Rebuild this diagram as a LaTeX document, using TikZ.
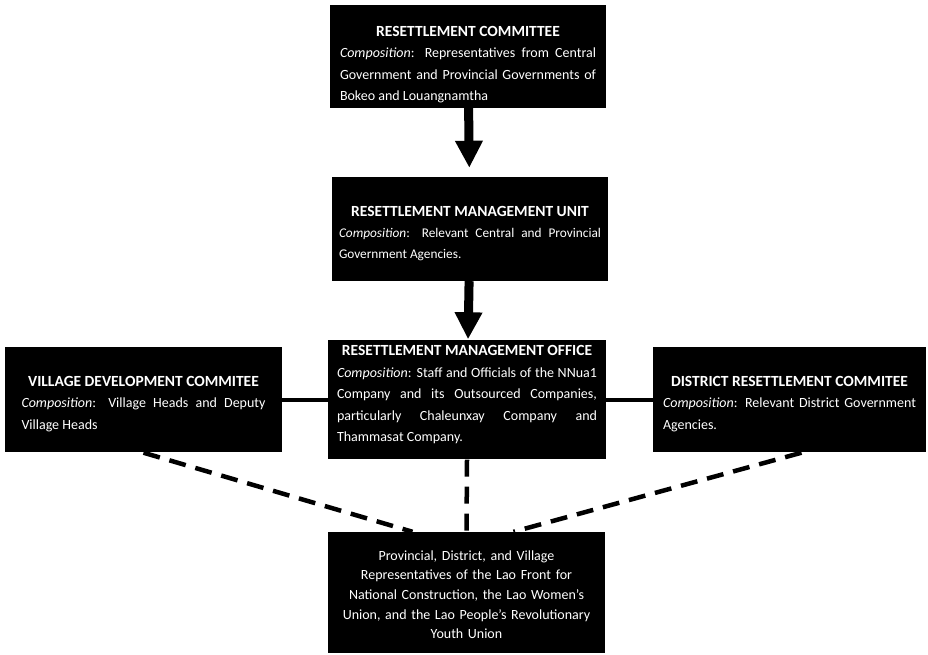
\documentclass[tikz,border=0pt]{standalone}
\usepackage{fontspec}
\setmainfont{Carlito}
\usepackage{tikz}
\usetikzlibrary{arrows.meta}
\hyphenpenalty=10000
\exhyphenpenalty=10000
\tolerance=9999
\newcommand{\orgbox}[3][0pt]{{\centering\fontsize{15.5}{21}\selectfont\bfseries\rule{0pt}{#1}#2\par}\noindent\textit{Composition}: #3}

\begin{document}
\begin{tikzpicture}[
      x=1pt, y=1pt,
      font=\fontsize{14}{21.5}\selectfont,
      box/.style={fill=black, text=white, align=justify, inner xsep=0pt, inner ysep=0pt},
      flow/.style={-{Triangle[width=26pt,length=27pt]}, line width=9pt},
      link/.style={line width=4pt},
      dashlink/.style={line width=4.5pt, dash pattern=on 17pt off 10pt}]
    \useasboundingbox (0,0) rectangle (928,655);
    \node[box, minimum width=276pt, minimum height=103pt, text width=256pt] (rc) at (468,598.5)
      {\orgbox[26pt]{RESETTLEMENT COMMITTEE}{Representatives from Central\linebreak Government and Provincial Governments of\linebreak Bokeo and Louangnamtha}};
    \node[box, minimum width=276pt, minimum height=104pt, text width=262pt, font=\fontsize{13.3}{21}\selectfont] (rmu) at (470,426)
      {\orgbox[19pt]{RESETTLEMENT MANAGEMENT UNIT}{Relevant Central and Provincial\linebreak Government Agencies.}};
    \node[box, minimum width=278pt, minimum height=119pt, text width=260pt] (rmo) at (467,255)
      {\orgbox{RESETTLEMENT MANAGEMENT OFFICE}{Staff and Officials of the NNua1\linebreak Company and its Outsourced Companies,\linebreak particularly Chaleunxay Company and\linebreak Thammasat Company.\rule[-13pt]{0pt}{13pt}}};
    \node[box, minimum width=277pt, minimum height=105pt, text width=244pt] (vdc) at (143.5,255)
      {\orgbox[18pt]{VILLAGE DEVELOPMENT COMMITEE}{Village Heads and Deputy\linebreak Village Heads}};
    \node[box, minimum width=273pt, minimum height=105pt, text width=253pt] (drc) at (789.5,255)
      {\orgbox[18pt]{DISTRICT RESETTLEMENT COMMITEE}{Relevant District Government\linebreak Agencies.}};
    \node[box, align=center, minimum width=277pt, minimum height=121pt, text width=257pt, font=\fontsize{14}{19.6}\selectfont] (lao) at (466.5,62.5)
      {\rule{0pt}{14pt}Provincial, District, and Village\\Representatives of the Lao Front for\\National Construction, the Lao Women's\\Union, and the Lao People's Revolutionary\\Youth Union};
    % hierarchy
    \draw[flow, shorten >=9pt] (rc) -- (rmu);
    \draw[flow, shorten >=1pt] (rmu) -- (rmo);
    % side committees
    \draw[link] (vdc) -- (rmo);
    \draw[link] (rmo) -- (drc);
    % mass organisations
    \draw[dashlink] (vdc.south) -- ([xshift=-54pt]lao.north);
    \draw[dashlink] (rmo.south) -- (lao.north);
    \draw[dashlink] ([xshift=12pt]drc.south) -- ([xshift=47pt]lao.north);
  \end{tikzpicture}
\end{document}
